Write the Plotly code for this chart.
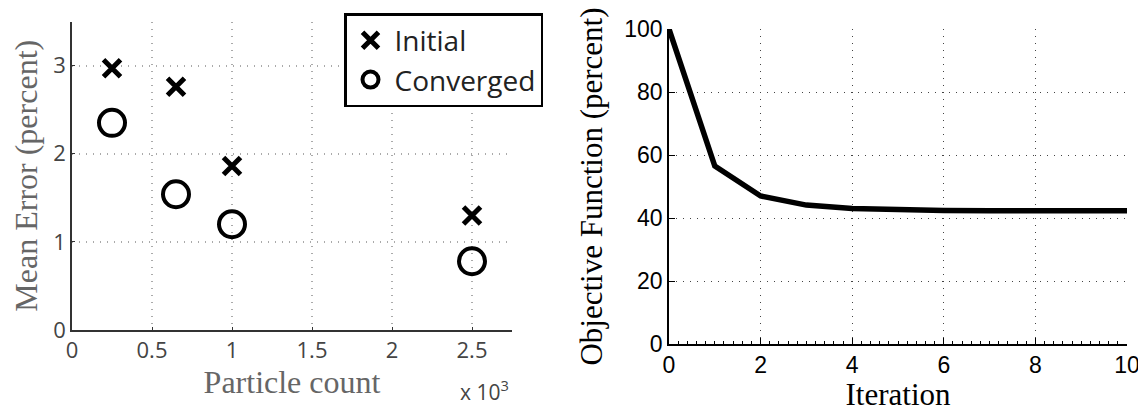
import plotly.graph_objects as go

# Left panel data
particle_count = [0.25, 0.65, 1.0, 2.5]          # x 10^3
initial_error = [2.97, 2.76, 1.86, 1.30]
converged_error = [2.35, 1.54, 1.20, 0.78]

# Right panel data
iterations = [0, 1, 2, 3, 4, 5, 6, 7, 8, 9, 10]
objective = [100, 56.5, 47.0, 44.1, 43.0, 42.6, 42.4, 42.3, 42.3, 42.3, 42.3]

# page has an 8px body margin; size the figure so it fits the window
OFF = 8
W, H = 1146 - OFF, 412 - OFF
def px(x): return (x - OFF) / W
def py(y): return 1 - (y - OFF) / H

fig = go.Figure()

fig.add_trace(go.Scatter(
    x=particle_count, y=initial_error, mode="markers", name="Initial",
    marker=dict(symbol="x-thin", size=17, color="black",
                line=dict(width=5, color="black")),
    xaxis="x", yaxis="y"))
fig.add_trace(go.Scatter(
    x=particle_count, y=converged_error, mode="markers", name="Converged",
    marker=dict(symbol="circle-open", size=26, color="black",
                line=dict(width=4, color="black")),
    xaxis="x", yaxis="y"))

fig.add_trace(go.Scatter(
    x=iterations, y=objective, mode="lines", showlegend=False,
    line=dict(color="black", width=5.5),
    xaxis="x2", yaxis="y2"))

sans_grey = dict(family="Open Sans", size=22, color="#444444")
serif_grey = dict(family="Liberation Serif", size=32, color="#666666")
serif_black = dict(family="Liberation Serif", size=31, color="black")

fig.update_layout(
    width=W, height=H,
    margin=dict(l=0, r=0, t=0, b=0),
    paper_bgcolor="white", plot_bgcolor="white",
    showlegend=True,
    legend=dict(
        x=px(344), y=py(13), xanchor="left", yanchor="top",
        xref="paper", yref="paper",
        bgcolor="white", bordercolor="black", borderwidth=2.5,
        font=dict(family="Open Sans", size=28, color="#222222"),
        itemwidth=38, tracegroupgap=0,
    ),
    xaxis=dict(
        domain=[px(72), px(512)], range=[0, 2.75],
        tickvals=[0, 0.5, 1, 1.5, 2, 2.5], ticktext=["0", "0.5", "1", "1.5", "2", "2.5"],
        showgrid=True, gridcolor="#aaaaaa", griddash="1px,6px", gridwidth=1.5,
        showline=True, linecolor="#333333", linewidth=1.5,
        ticks="inside", ticklen=3, tickcolor="#333333",
        tickfont=sans_grey, zeroline=False,
        title=dict(text="Particle count", font=serif_grey, standoff=2),
        anchor="y", automargin=False,
    ),
    yaxis=dict(
        domain=[py(330), py(21.5)], range=[0, 3.5],
        tickvals=[0, 1, 2, 3],
        showgrid=True, gridcolor="#aaaaaa", griddash="1px,6px", gridwidth=1.5,
        showline=True, linecolor="#333333", linewidth=1.5,
        ticks="inside", ticklen=3, tickcolor="#333333",
        tickfont=sans_grey, zeroline=False,
        title=dict(text="Mean Error (percent)", font=serif_grey, standoff=10),
        anchor="x", automargin=False,
    ),
    xaxis2=dict(
        domain=[px(669), px(1127)], range=[0, 10],
        tickvals=[0, 2, 4, 6, 8, 10],
        showgrid=True, gridcolor="#444444", griddash="1px,6px", gridwidth=1.2,
        showline=True, linecolor="black", linewidth=1.5,
        ticks="inside", ticklen=6, tickcolor="black",
        minor=dict(dtick=0.2, ticks="inside", ticklen=3, tickcolor="black", showgrid=False),
        tickfont=dict(family="Liberation Sans", size=23, color="black"),
        zeroline=False,
        title=dict(text="Iteration", font=serif_black, standoff=0),
        anchor="y2", automargin=False,
    ),
    yaxis2=dict(
        domain=[py(344), py(29)], range=[0, 100],
        tickvals=[0, 20, 40, 60, 80, 100],
        showgrid=True, gridcolor="#444444", griddash="1px,6px", gridwidth=1.2,
        showline=True, linecolor="black", linewidth=1.5,
        ticks="inside", ticklen=6, tickcolor="black",
        tickfont=dict(family="Liberation Sans", size=23, color="black"),
        zeroline=False,
        title=dict(text="Objective Function (percent)", font=serif_black, standoff=12),
        anchor="x2", automargin=False,
    ),
    annotations=[dict(
        text="x 10<sup>3</sup>", x=px(484), y=py(390), xref="paper", yref="paper",
        xanchor="center", yanchor="middle", showarrow=False,
        font=dict(family="Open Sans", size=21, color="#444444"))],
)

fig.write_html("out.html")
